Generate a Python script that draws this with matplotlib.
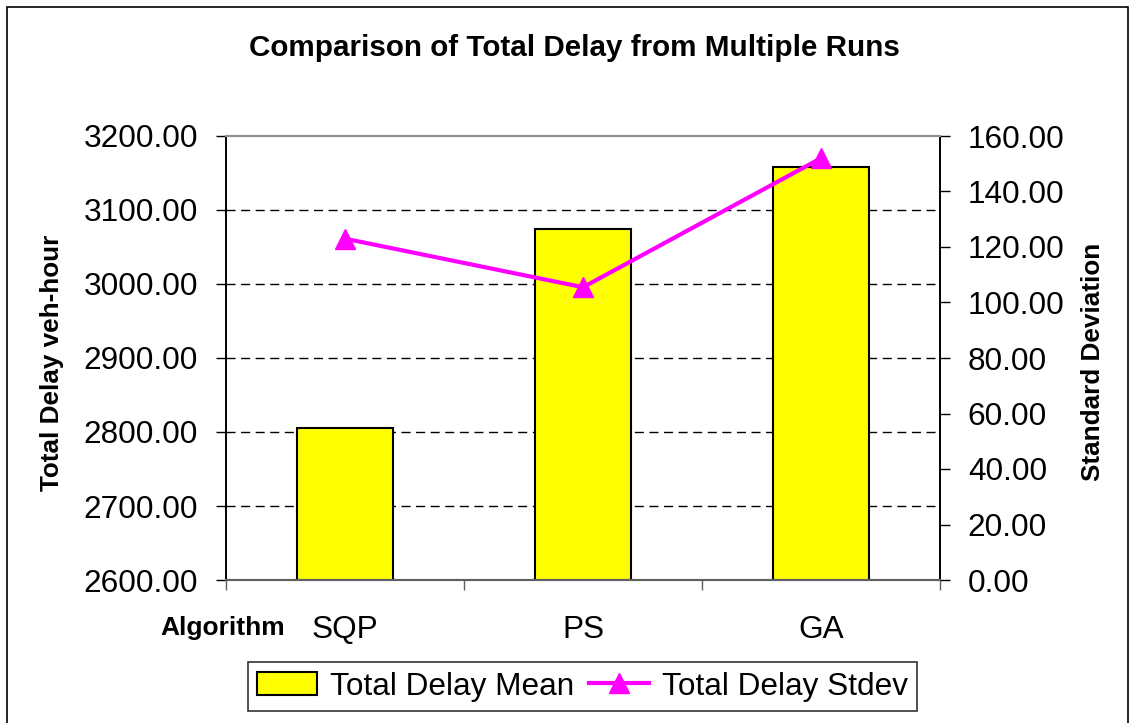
import matplotlib
matplotlib.use("Agg")
import matplotlib.pyplot as plt
from matplotlib.patches import Rectangle
import numpy as np

plt.rcParams["font.family"] = ["Liberation Sans", "DejaVu Sans"]

# Data
algorithms = ["SQP", "PS", "GA"]
delay_mean = [2805.0, 3074.0, 3158.0]
delay_stdev = [123.0, 105.5, 152.0]
left_ticks = [2600, 2700, 2800, 2900, 3000, 3100, 3200]
right_ticks = [0, 20, 40, 60, 80, 100, 120, 140, 160]

W, H = 1139, 723
fig = plt.figure(figsize=(W / 100, H / 100), dpi=100)
fig.patch.set_facecolor("white")

# outer chart border
fig.patches.append(Rectangle((7 / W, -0.01), (1128 - 7) / W, 1 - 7 / H + 0.01,
                             transform=fig.transFigure, fill=False,
                             edgecolor="black", linewidth=1.2))

ax = fig.add_axes([226 / W, 1 - 580 / H, (940 - 226) / W, (580 - 136) / H])
ax2 = ax.twinx()

x = np.arange(len(algorithms))
bars = ax.bar(x, delay_mean, width=0.4, color="#FFFF00", edgecolor="black",
              linewidth=1.5, label="Total Delay Mean", zorder=2)
ax.set_xlim(-0.5, len(algorithms) - 0.5)
ax.set_ylim(left_ticks[0], left_ticks[-1])
ax.set_yticks(left_ticks)
ax.set_yticklabels([f"{v:.2f}" for v in left_ticks])

# dashed horizontal gridlines
for v in left_ticks[1:-1]:
    ax.axhline(v, color="black", linewidth=1.0, linestyle=(0, (6.5, 4)), zorder=1)

line, = ax2.plot(x, delay_stdev, color="#FF00FF", linewidth=3, marker="^",
                 markersize=15, label="Total Delay Stdev", zorder=3)
ax2.set_ylim(right_ticks[0], right_ticks[-1])
ax2.set_yticks(right_ticks)
ax2.set_yticklabels([f"{v:.2f}" for v in right_ticks])

# x ticks: labels at centers, tick marks at category boundaries
ax.set_xticks(x)
ax.set_xticklabels(algorithms)
ax.set_xticks(np.arange(-0.5, len(algorithms), 1.0), minor=True)
ax.tick_params(axis="x", which="major", length=0, pad=25, labelsize=22.7)
ax.tick_params(axis="x", which="minor", length=7, width=1, color="#606060")
ax.tick_params(axis="y", which="major", length=7, width=1, pad=13, labelsize=22.7)
ax2.tick_params(axis="y", which="major", length=7, width=1, pad=13, labelsize=22.7)

for a in (ax, ax2):
    a.spines["top"].set_color("#909090")
    a.spines["top"].set_linewidth(1.5)
    a.spines["bottom"].set_color("#606060")
    a.spines["bottom"].set_linewidth(1.5)
    a.spines["left"].set_color("black")
    a.spines["left"].set_linewidth(1.2)
    a.spines["right"].set_color("black")
    a.spines["right"].set_linewidth(1.2)

fig.text(574 / W, 1 - 48 / H, "Comparison of Total Delay from Multiple Runs",
         ha="center", va="center", fontsize=21.3, fontweight="bold")
fig.text(52 / W, 1 - 363 / H, "Total Delay veh-hour", rotation=90,
         ha="center", va="center", fontsize=18.8, fontweight="bold")
fig.text(1093 / W, 1 - 362 / H, "Standard Deviation", rotation=90,
         ha="center", va="center", fontsize=18.8, fontweight="bold")
fig.text(160 / W, 1 - 628 / H, "Algorithm", ha="left", va="center",
         fontsize=19, fontweight="bold")

leg = fig.legend([bars, line], ["Total Delay Mean", "Total Delay Stdev"],
                 loc="center", bbox_to_anchor=(582.5 / W, 1 - 686.5 / H),
                 ncol=2, fontsize=22.7, frameon=True, fancybox=False,
                 borderpad=0.3, handlelength=1.9, handletextpad=0.4,
                 columnspacing=0.5, borderaxespad=0)
leg.get_frame().set_edgecolor("black")
leg.get_frame().set_linewidth(1.2)

fig.savefig("out.png", dpi=100)
